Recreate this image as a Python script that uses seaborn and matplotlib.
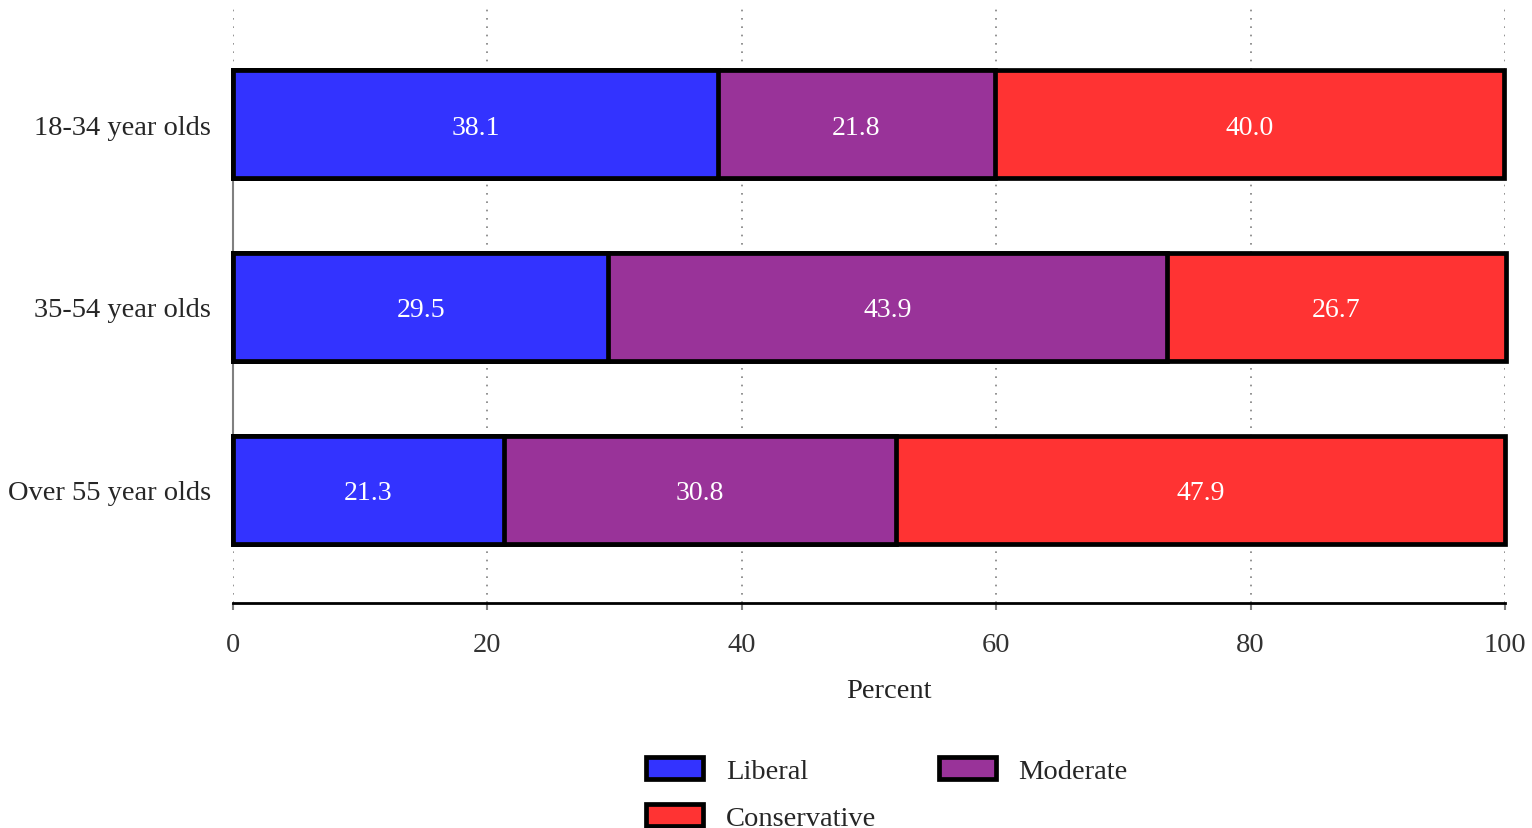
import numpy as np
import matplotlib
matplotlib.use("Agg")
import matplotlib.pyplot as plt
from matplotlib.patches import Patch
import seaborn as sns

# data
groups = ["18-34 year olds", "35-54 year olds", "Over 55 year olds"]
liberal = [38.1, 29.5, 21.3]
moderate = [21.8, 43.9, 30.8]
conservative = [40.0, 26.7, 47.9]
series_names = ["Liberal", "Moderate", "Conservative"]
series_colors = ["#3333FF", "#993399", "#FF3333"]
x_ticks = [0, 20, 40, 60, 80, 100]

sns.set_theme(style="white")
plt.rcParams["font.family"] = ["Liberation Serif", "DejaVu Serif"]

values = np.array([liberal, moderate, conservative])
cum = values.cumsum(axis=0)
starts = cum - values

fig = plt.figure(figsize=(15.32, 8.29), dpi=100)
ax = fig.add_axes([233 / 1532, 1 - 604 / 829, (1505 - 233) / 1532, (604 - 8) / 829])

# stacked bars: draw cumulative totals from the outside in
for i in range(len(series_names) - 1, -1, -1):
    sns.barplot(x=cum[i], y=groups, orient="y", color=series_colors[i],
                saturation=1, edgecolor="black", linewidth=3.4, width=0.59,
                ax=ax, zorder=3)

for p in ax.patches:
    p.set_clip_on(False)

# segment labels
for i in range(len(series_names)):
    for j, g in enumerate(groups):
        ax.text(starts[i, j] + values[i, j] / 2, j, f"{values[i, j]:.1f}",
                ha="center", va="center_baseline", color="white", fontsize=20, zorder=4)

ax.set_xlim(0, 100)
ax.set_ylim(2.62, -0.64)
ax.set_xticks(x_ticks)
ax.set_xticklabels([str(t) for t in x_ticks], fontsize=20.5, color="#333333")
ax.tick_params(axis="x", bottom=True, length=5, width=1.5, color="gray", pad=16)
ax.tick_params(axis="y", left=False, length=0, labelsize=20.5, pad=16)
ax.set_ylabel("")
ax.set_xlabel("Percent", fontsize=20.5, labelpad=16, color="#222222")
ax.xaxis.set_label_coords(0.516, -0.125)

ax.xaxis.grid(True, linestyle=(0, (1, 4)), color="gray", linewidth=1.2, zorder=0)
ax.yaxis.grid(False)

for side in ["top", "right"]:
    ax.spines[side].set_visible(False)
ax.spines["bottom"].set_color("black")
ax.spines["bottom"].set_linewidth(2)
ax.spines["left"].set_color("gray")
ax.spines["left"].set_linewidth(1.5)
ax.spines["left"].set_bounds(0, 2)

handles = [Patch(facecolor=c, edgecolor="black", linewidth=3.4) for c in series_colors]
order = [0, 2, 1]
fig.legend([handles[k] for k in order], [series_names[k] for k in order],
           loc="upper center", bbox_to_anchor=(0.579, 0.117), ncol=2,
           frameon=False, fontsize=20.5, handlelength=2.0, handleheight=0.85,
           handletextpad=0.8, columnspacing=2.2, labelspacing=0.7)

plt.savefig("out.png", dpi=100)
